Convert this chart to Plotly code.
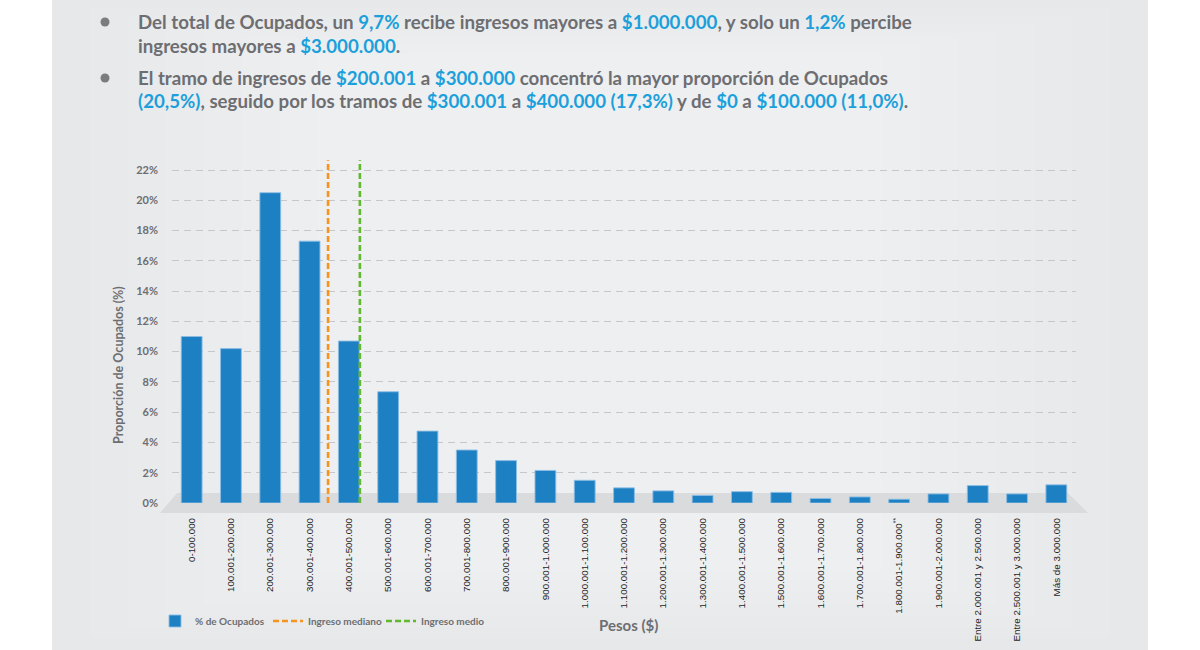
import plotly.graph_objects as go

# ---------------- data ----------------
categorias = [
    "0-100.000", "100.001-200.000", "200.001-300.000", "300.001-400.000",
    "400.001-500.000", "500.001-600.000", "600.001-700.000", "700.001-800.000",
    "800.001-900.000", "900.001-1.000.000", "1.000.001-1.100.000",
    "1.100.001-1.200.000", "1.200.001-1.300.000", "1.300.001-1.400.000",
    "1.400.001-1.500.000", "1.500.001-1.600.000", "1.600.001-1.700.000",
    "1.700.001-1.800.000", "1.800.001-1.900.000<sup>**</sup>",
    "1.900.001-2.000.000", "Entre 2.000.001 y 2.500.000",
    "Entre 2.500.001 y 3.000.000", "Más de 3.000.000",
]
pct_ocupados = [11.0, 10.2, 20.5, 17.3, 10.7, 7.35, 4.75, 3.5, 2.8, 2.15,
                1.5, 1.0, 0.8, 0.5, 0.75, 0.7, 0.3, 0.4, 0.25, 0.6,
                1.15, 0.6, 1.2]
y_ticks = [0, 2, 4, 6, 8, 10, 12, 14, 16, 18, 20, 22]
y_tick_labels = [f"{v}%" for v in y_ticks]
ingreso_mediano = 397000
ingreso_medio = 478000
ancho_tramo = 100000
linea_tope = 22.65

# ---------------- styles ----------------
GRAY = "#6d6e71"
BLUE_TXT = "#1ba0db"
BAR = "#1d80c2"
ORANGE = "#f7931e"
GREEN = "#62b82e"
FONT = "Lato"
FIG_W, FIG_H = 1200, 650

# plot-area pixel geometry
L, R, T, B = 172, 1076, 150, 503
W, H = R - L, B - T


def px_x(px):
    return (px - L) / W


def px_y(py):
    return (B - py) / H


pos = list(range(len(categorias)))
pos_mediano = ingreso_mediano / ancho_tramo - 0.5
pos_medio = ingreso_medio / ancho_tramo - 0.5

fig = go.Figure()
fig.add_trace(go.Bar(
    x=pos, y=pct_ocupados, name="% de Ocupados", width=0.53,
    marker=dict(color=BAR, line=dict(color="rgba(140,190,230,0.9)", width=1)),
))
fig.add_trace(go.Scatter(
    x=[pos_mediano, pos_mediano], y=[0, linea_tope], mode="lines",
    name="Ingreso mediano", line=dict(color=ORANGE, width=2.6, dash="6px,3px"),
))
fig.add_trace(go.Scatter(
    x=[pos_medio, pos_medio], y=[0, linea_tope], mode="lines",
    name="Ingreso medio", line=dict(color=GREEN, width=2.6, dash="6px,3px"),
))

shapes = []
# background panel with soft lighter centre
shapes.append(dict(type="rect", xref="paper", yref="paper", layer="below",
                   x0=px_x(52), x1=px_x(1148), y0=px_y(650), y1=px_y(0),
                   fillcolor="#e7e8ea", line=dict(width=0)))
for k in range(1, 8):
    inset = k * 38
    shapes.append(dict(type="rect", xref="paper", yref="paper", layer="below",
                       x0=px_x(52 + inset), x1=px_x(1148 - inset),
                       y0=px_y(650 - inset * 0.3), y1=px_y(inset * 0.2),
                       fillcolor="white", opacity=0.07, line=dict(width=0)))
# floor
floor = (f"M {px_x(177)},{px_y(493)} L {px_x(1068)},{px_y(493)} "
         f"L {px_x(1088)},{px_y(513)} L {px_x(160)},{px_y(513)} Z")
shapes.append(dict(type="path", xref="paper", yref="paper", layer="below",
                   path=floor, fillcolor="#dadbdd", line=dict(width=0)))
# bullets
for cy in (22, 78):
    shapes.append(dict(type="circle", xref="paper", yref="paper",
                       x0=px_x(100.5), x1=px_x(109.5),
                       y0=px_y(cy + 4.5), y1=px_y(cy - 4.5),
                       fillcolor="#7b7c7f", line=dict(width=0)))


def hl(t):
    return f"<span style='color:{BLUE_TXT}'>{t}</span>"


lines = [
    (22, f"Del total de Ocupados, un {hl('9,7%')} recibe ingresos mayores a "
         f"{hl('$1.000.000')}, y solo un {hl('1,2%')} percibe"),
    (46, f"ingresos mayores a {hl('$3.000.000')}."),
    (78, f"El tramo de ingresos de {hl('$200.001')} a {hl('$300.000')} "
         f"concentró la mayor proporción de Ocupados"),
    (101, f"{hl('(20,5%)')}, seguido por los tramos de {hl('$300.001')} a "
          f"{hl('$400.000 (17,3%)')} y de {hl('$0')} a {hl('$100.000 (11,0%)')}."),
]
annotations = []
for cy, txt in lines:
    annotations.append(dict(
        text=txt, xref="paper", yref="paper", x=px_x(136), y=px_y(cy),
        xanchor="left", yanchor="middle", showarrow=False,
        font=dict(family=FONT, size=18.7, color=GRAY, weight=700),
    ))
annotations.append(dict(
    text="Proporción de Ocupados (%)", xref="paper", yref="paper",
    x=px_x(118), y=px_y(365), textangle=-90, showarrow=False,
    xanchor="center", yanchor="middle",
    font=dict(family=FONT, size=12.5, color=GRAY, weight=700),
))
annotations.append(dict(
    text="Pesos ($)", xref="paper", yref="paper",
    x=px_x(628), y=px_y(625), showarrow=False,
    xanchor="center", yanchor="middle",
    font=dict(family=FONT, size=15, color=GRAY, weight=700),
))

fig.update_layout(
    width=FIG_W, height=FIG_H, autosize=False,
    margin=dict(l=L, r=FIG_W - R, t=T, b=FIG_H - B),
    paper_bgcolor="white", plot_bgcolor="rgba(0,0,0,0)",
    shapes=shapes, annotations=annotations,
    showlegend=True,
    legend=dict(orientation="h", xref="container", yref="container",
                x=155 / FIG_W, y=(FIG_H - 621) / FIG_H,
                xanchor="left", yanchor="middle", bgcolor="rgba(0,0,0,0)",
                font=dict(family=FONT, size=10, color=GRAY, weight=700),
                itemwidth=30, entrywidth=68, entrywidthmode="pixels"),
    xaxis=dict(range=[-0.5, len(categorias) - 0.5], tickmode="array",
               tickvals=pos, ticktext=categorias, tickangle=-90,
               showgrid=False, zeroline=False, showline=False,
               ticks="", ticklabelstandoff=12, automargin=False,
               tickfont=dict(family="Liberation Sans", size=9.8, color="#1e1e1e")),
    yaxis=dict(range=[0, (B - T) / ((B - 170) / 22)], tickmode="array",
               tickvals=y_ticks, ticktext=y_tick_labels,
               showgrid=True, gridcolor="#c6c7c9", gridwidth=1,
               griddash="7px,5px", zeroline=False, showline=False,
               ticks="", ticklabelstandoff=13, automargin=False,
               tickfont=dict(family=FONT, size=11, color=GRAY, weight=700)),
)

fig.write_html(
    "out.html",
    config={"displayModeBar": False, "responsive": False},
    default_width="1200px", default_height="650px",
    post_script="document.body.style.margin='0';",
)
